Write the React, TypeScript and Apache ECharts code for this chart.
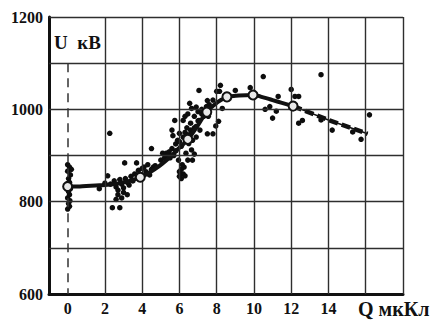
import React, { useEffect, useRef } from "react";
import * as echarts from "echarts";

// Scatter measurements (Q, мкКл ; U, кВ)
const scatterQ = [
  0.0, 0.1, 0.0, 0.15, 0.05, 0.1, 0.0, 0.15, 0.05, 0.1, 0.0, 0.12, 0.05, 0.1, 0.0, 0.2,
  1.7, 2.0, 2.15, 2.3, 2.5, 2.6, 2.7, 2.8, 2.9, 3.0, 3.1, 3.2, 3.3, 3.4, 3.5, 3.6, 3.8, 4.0, 4.2, 4.4, 4.6,
  3.06, 3.7, 2.4, 2.8, 2.7, 2.9, 3.0, 3.2, 2.6, 2.26, 4.5, 4.1, 4.3, 4.5, 4.7,
  5.1, 5.3, 5.45, 5.75, 5.6, 5.65, 6.2, 6.3, 6.1, 6.0, 6.25, 6.7, 6.8, 6.55, 6.65, 6.45, 7.45, 7.5,
  6.2, 6.9, 7.05, 6.5, 6.1, 5.9, 6.0, 6.7, 6.65, 5.95, 6.45, 6.15, 5.8, 6.3, 6.4, 6.6, 6.8, 7.0, 7.2,
  7.3, 7.1, 6.9, 5.5, 5.7, 6.35, 6.55, 6.0, 6.1,
  5.0, 5.2, 5.4, 5.6, 5.8, 6.0, 6.2, 6.4, 6.6, 6.8, 7.0, 7.2, 7.6, 7.8, 6.9, 6.3,
  7.05, 8.0, 8.15, 8.2, 9.0, 9.8, 10.5, 7.6, 7.55, 8.1, 7.95, 7.5, 7.8, 8.3,
  11.3, 10.85, 10.6, 11.2, 11.0, 12.0, 12.2, 12.4, 13.6, 12.4, 12.6, 13.6, 14.2, 16.2, 15.75, 15.3,
];
const scatterU = [
  880, 875, 866, 858, 850, 842, 836, 828, 822, 815, 808, 802, 796, 790, 784, 870,
  828, 840, 856, 838, 845, 832, 825, 848, 838, 830, 850, 842, 836, 855, 845, 860, 868, 872, 865, 858, 875,
  884, 884, 787, 787, 815, 808, 820, 815, 805, 948, 915, 875, 880, 870, 878,
  905, 905, 908, 976, 955, 943, 860, 856, 870, 865, 875, 890, 903, 1013, 1002, 990, 1006, 1019,
  976, 963, 976, 926, 920, 933, 948, 933, 912, 890, 890, 880, 910, 950, 960, 970, 985, 995, 1000,
  985, 955, 940, 895, 900, 905, 945, 855, 850,
  890, 895, 900, 915, 925, 930, 940, 945, 955, 960, 975, 990, 1010, 1020, 1005, 985,
  1041, 1039, 1039, 1052, 1041, 1047, 1071, 1003, 985, 974, 964, 947, 947, 1002,
  1028, 1006, 1000, 996, 981, 1043, 1028, 1028, 1075, 970, 976, 977, 955, 988, 935, 951,
];

// Fitted curve: solid part and extrapolated dashed part
const curveQ = [0, 0.5, 1, 1.5, 2, 2.5, 3, 3.5, 3.9, 4.3, 4.7, 5.1, 5.5, 5.9, 6.45, 7, 7.47, 8, 8.55, 9.2, 9.95, 10.5, 11, 11.5, 12.1];
const curveU = [833, 833, 834, 835, 836, 838, 842, 847, 853, 861, 871, 883, 897, 913, 935, 966, 994, 1014, 1026, 1030, 1031, 1026, 1020, 1014, 1007];
const dashQ = [12.1, 14, 16.1];
const dashU = [1007, 977, 947];

// Circled points on the curve
const knotQ = [0, 3.9, 6.45, 7.47, 8.55, 9.95, 12.1];
const knotU = [833, 853, 935, 994, 1027, 1031, 1007];

// Axis ticks / grid
const xLabels = [0, 2, 4, 6, 8, 10, 12, 14];
const yLabels = [600, 800, 1000, 1200];
const gridQ = [2, 4, 6, 8, 10, 12, 14, 16, 18];
const gridU = [700, 800, 900, 1000, 1100, 1200];
const zeroLineU = [1100, 600];
const X_MIN = -1;
const X_MAX = 18;
const Y_MIN = 600;
const Y_MAX = 1200;

const FONT = "'Liberation Serif', 'DejaVu Serif', serif";

export default function App() {
  const ref = useRef<HTMLDivElement>(null);
  useEffect(() => {
    if (!ref.current) return;
    const chart = echarts.init(ref.current, null, { renderer: "svg" });
    const zip = (a: number[], b: number[]) => a.map((v, i) => [v, b[i]]);
    const gridLine = { color: "#2e2e2e", width: 1.4, type: [1000, 0] };
    chart.setOption({
      animation: false,
      backgroundColor: "#ffffff",
      grid: { left: 49, right: 43, top: 17, bottom: 37 },
      xAxis: {
        type: "value",
        min: X_MIN,
        max: X_MAX,
        interval: 1,
        axisLine: { show: true, onZero: false, lineStyle: { color: "#111", width: 3 } },
        axisTick: { show: false },
        splitLine: { show: false },
        axisLabel: {
          margin: 6,
          color: "#111",
          fontFamily: FONT,
          fontWeight: "bold",
          fontSize: 16,
          formatter: (v: number) => (xLabels.includes(v) ? String(v) : ""),
        },
      },
      yAxis: {
        type: "value",
        min: Y_MIN,
        max: Y_MAX,
        interval: 100,
        axisLine: { show: true, onZero: false, lineStyle: { color: "#111", width: 3 } },
        axisTick: { show: false },
        splitLine: { show: false },
        axisLabel: {
          margin: 6,
          color: "#111",
          fontFamily: FONT,
          fontWeight: "bold",
          fontSize: 16,
          formatter: (v: number) => (yLabels.includes(v) ? String(v) : ""),
        },
      },
      series: [
        {
          type: "line",
          data: [],
          silent: true,
          z: 1,
          markLine: {
            silent: true,
            symbol: ["none", "none"],
            label: { show: false },
            lineStyle: gridLine,
            data: [
              ...gridQ.map((q) => [{ coord: [q, Y_MIN] }, { coord: [q, Y_MAX] }]),
              ...gridU.map((u) => [{ coord: [X_MIN, u] }, { coord: [X_MAX, u] }]),
            ],
          },
        },
        {
          type: "line",
          data: [],
          silent: true,
          z: 1,
          markLine: {
            silent: true,
            symbol: ["none", "none"],
            label: { show: false },
            lineStyle: { color: "#333", width: 1.5, type: [9, 6] },
            data: [[{ coord: [0, zeroLineU[0]] }, { coord: [0, zeroLineU[1]] }]],
          },
        },
        {
          type: "scatter",
          data: zip(scatterQ, scatterU),
          symbol: "circle",
          symbolSize: 5.5,
          itemStyle: { color: "#0d0d0d", opacity: 1 },
          silent: true,
          z: 3,
        },
        {
          type: "line",
          data: zip(curveQ, curveU),
          smooth: true,
          showSymbol: false,
          lineStyle: { color: "#111", width: 4 },
          silent: true,
          z: 4,
        },
        {
          type: "line",
          data: zip(dashQ, dashU),
          showSymbol: false,
          lineStyle: { color: "#111", width: 1.5, type: [1000, 0] },
          silent: true,
          z: 4,
        },
        {
          type: "line",
          data: zip(dashQ, dashU),
          showSymbol: false,
          lineStyle: { color: "#111", width: 4.5, type: [9, 4] },
          silent: true,
          z: 4,
        },
        {
          type: "scatter",
          data: zip(knotQ, knotU),
          symbol: "circle",
          symbolSize: 9,
          itemStyle: { color: "#e8e8e8", borderColor: "#111", borderWidth: 2, opacity: 1 },
          silent: true,
          z: 5,
        },
      ],
      graphic: [
        {
          type: "text",
          style: {
            x: 54,
            y: 42,
            text: "U  кВ",
            font: `bold 19px ${FONT}`,
            fill: "#111",
            verticalAlign: "middle",
          },
        },
        {
          type: "text",
          style: {
            x: 358,
            y: 309,
            text: "Q мкКл",
            font: `bold 20px ${FONT}`,
            fill: "#111",
            verticalAlign: "middle",
          },
        },
      ],
    });
    return () => chart.dispose();
  }, []);
  return (
    <div
      ref={ref}
      style={{ position: "fixed", left: 0, top: 0, width: 446, height: 331 }}
    />
  );
}
